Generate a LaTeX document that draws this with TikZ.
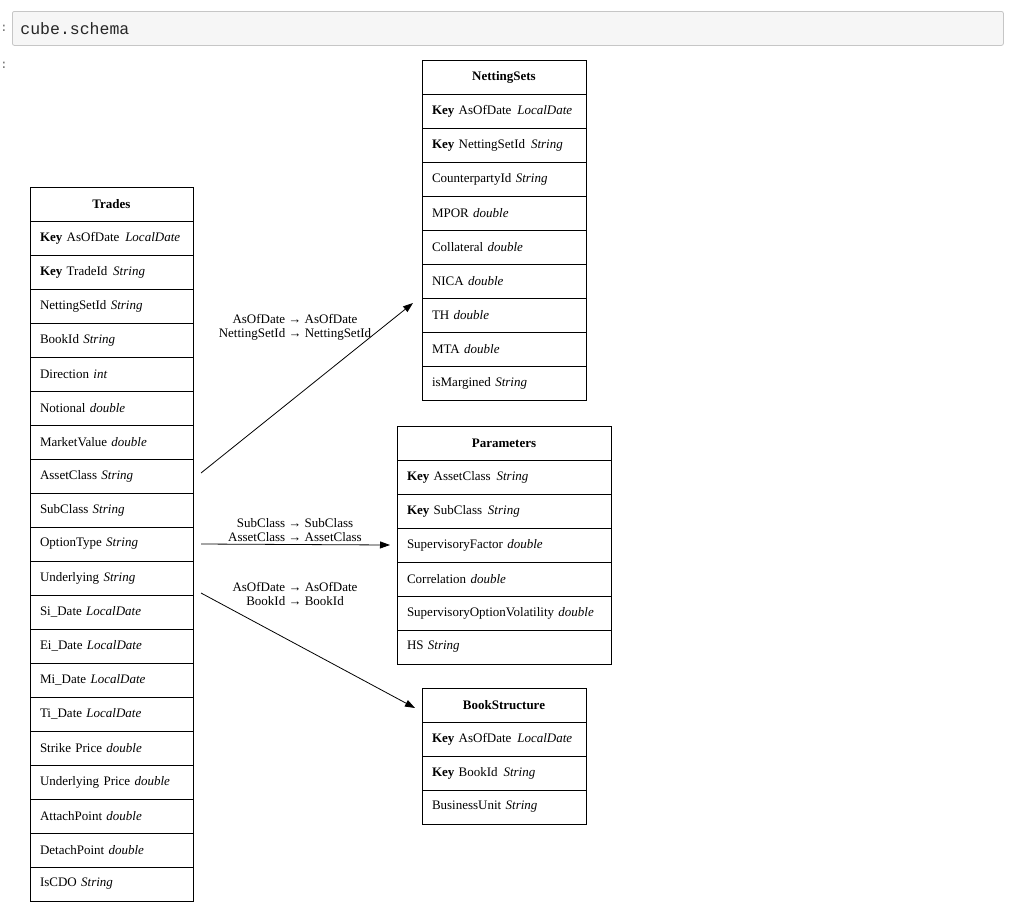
\documentclass[tikz,border=0pt]{standalone}
\usepackage{fontspec}
\setmainfont{Liberation Serif}
\setmonofont{Liberation Mono}
\usetikzlibrary{positioning, arrows.meta}

\newcommand{\keyfield}[2]{\textbf{Key} #1\hspace{0.45em}\textit{#2}}
\newcommand{\plainfield}[2]{#1 \textit{#2}}

\begin{document}
\begin{tikzpicture}[
    x=1pt, y=-1pt,
    cell/.style={rectangle, draw=black, line width=0.9pt, outer sep=0pt, minimum height=34pt, inner xsep=10pt, inner ysep=0pt, font=\fontsize{13}{14}\selectfont, align=left},
    head/.style={font=\fontsize{13}{14}\selectfont\bfseries, align=center},
    tradecol/.style={cell, text width=143pt},
    nettingcol/.style={cell, text width=144pt},
    paramcol/.style={cell, text width=194pt},
    bookcol/.style={cell, text width=144pt},
    inputbox/.style={rectangle, rounded corners=2pt, draw=gray!45, fill=gray!7, line width=0.8pt, minimum height=34pt, text width=975pt, inner xsep=8pt, align=left, font=\fontsize{16.5}{18}\selectfont\ttfamily, text=black!85},
    prompt/.style={inner sep=0pt, font=\fontsize{12}{14}\selectfont\ttfamily, text=gray!80!black},
    link/.style={-{Triangle[length=10pt,width=7pt]}, line width=0.8pt},
    linklabel/.style={font=\fontsize{13}{14}\selectfont, align=center, inner sep=0pt}
]
    \useasboundingbox (0,0) rectangle (1024,916);

    % Notebook cell
    \node[prompt, anchor=west] (inprompt) at (0.2,28) {:};
    \node[prompt, anchor=west] (outprompt) at (0.2,65) {:};
    \node[inputbox, anchor=north west] (incell) at (12,11) {cube.schema};

    % Trades
    \node[tradecol, head, anchor=north west] (trades) at (30,187) {Trades};
    \node[tradecol, below=0pt of trades] (trades1) {\keyfield{AsOfDate}{LocalDate}};
    \node[tradecol, below=0pt of trades1] (trades2) {\keyfield{TradeId}{String}};
    \node[tradecol, below=0pt of trades2] (trades3) {\plainfield{NettingSetId}{String}};
    \node[tradecol, below=0pt of trades3] (trades4) {\plainfield{BookId}{String}};
    \node[tradecol, below=0pt of trades4] (trades5) {\plainfield{Direction}{int}};
    \node[tradecol, below=0pt of trades5] (trades6) {\plainfield{Notional}{double}};
    \node[tradecol, below=0pt of trades6] (trades7) {\plainfield{MarketValue}{double}};
    \node[tradecol, below=0pt of trades7] (trades8) {\plainfield{AssetClass}{String}};
    \node[tradecol, below=0pt of trades8] (trades9) {\plainfield{SubClass}{String}};
    \node[tradecol, below=0pt of trades9] (trades10) {\plainfield{OptionType}{String}};
    \node[tradecol, below=0pt of trades10] (trades11) {\plainfield{Underlying}{String}};
    \node[tradecol, below=0pt of trades11] (trades12) {\plainfield{Si\_Date}{LocalDate}};
    \node[tradecol, below=0pt of trades12] (trades13) {\plainfield{Ei\_Date}{LocalDate}};
    \node[tradecol, below=0pt of trades13] (trades14) {\plainfield{Mi\_Date}{LocalDate}};
    \node[tradecol, below=0pt of trades14] (trades15) {\plainfield{Ti\_Date}{LocalDate}};
    \node[tradecol, below=0pt of trades15] (trades16) {\plainfield{Strike Price}{double}};
    \node[tradecol, below=0pt of trades16] (trades17) {\plainfield{Underlying Price}{double}};
    \node[tradecol, below=0pt of trades17] (trades18) {\plainfield{AttachPoint}{double}};
    \node[tradecol, below=0pt of trades18] (trades19) {\plainfield{DetachPoint}{double}};
    \node[tradecol, below=0pt of trades19] (trades20) {\plainfield{IsCDO}{String}};

    % NettingSets
    \node[nettingcol, head, anchor=north west] (netting) at (422,60) {NettingSets};
    \node[nettingcol, below=0pt of netting] (netting1) {\keyfield{AsOfDate}{LocalDate}};
    \node[nettingcol, below=0pt of netting1] (netting2) {\keyfield{NettingSetId}{String}};
    \node[nettingcol, below=0pt of netting2] (netting3) {\plainfield{CounterpartyId}{String}};
    \node[nettingcol, below=0pt of netting3] (netting4) {\plainfield{MPOR}{double}};
    \node[nettingcol, below=0pt of netting4] (netting5) {\plainfield{Collateral}{double}};
    \node[nettingcol, below=0pt of netting5] (netting6) {\plainfield{NICA}{double}};
    \node[nettingcol, below=0pt of netting6] (netting7) {\plainfield{TH}{double}};
    \node[nettingcol, below=0pt of netting7] (netting8) {\plainfield{MTA}{double}};
    \node[nettingcol, below=0pt of netting8] (netting9) {\plainfield{isMargined}{String}};

    % Parameters
    \node[paramcol, head, anchor=north west] (params) at (397,426) {Parameters};
    \node[paramcol, below=0pt of params] (params1) {\keyfield{AssetClass}{String}};
    \node[paramcol, below=0pt of params1] (params2) {\keyfield{SubClass}{String}};
    \node[paramcol, below=0pt of params2] (params3) {\plainfield{SupervisoryFactor}{double}};
    \node[paramcol, below=0pt of params3] (params4) {\plainfield{Correlation}{double}};
    \node[paramcol, below=0pt of params4] (params5) {\plainfield{SupervisoryOptionVolatility}{double}};
    \node[paramcol, below=0pt of params5] (params6) {\plainfield{HS}{String}};

    % BookStructure
    \node[bookcol, head, anchor=north west] (book) at (422,688) {BookStructure};
    \node[bookcol, below=0pt of book] (book1) {\keyfield{AsOfDate}{LocalDate}};
    \node[bookcol, below=0pt of book1] (book2) {\keyfield{BookId}{String}};
    \node[bookcol, below=0pt of book2] (book3) {\plainfield{BusinessUnit}{String}};

    % Links
    \draw[link] ([xshift=8pt,yshift=3pt]trades8.east) -- ([xshift=-9pt,yshift=12pt]netting7.west);
    \draw[link] ([xshift=8pt]trades10.east) -- ([xshift=-7pt]params3.west);
    \draw[link] ([xshift=8pt,yshift=-15pt]trades11.east) -- ([xshift=-7pt,yshift=-3pt]book.west);

    % Link labels
    \node[linklabel] (nettinglabel) at (295,327) {AsOfDate → AsOfDate\\NettingSetId → NettingSetId};
    \node[linklabel] (paramslabel) at (295,530) {SubClass → SubClass\\AssetClass → AssetClass};
    \node[linklabel] (booklabel) at (295,594) {AsOfDate → AsOfDate\\BookId → BookId};

\end{tikzpicture}
\end{document}
